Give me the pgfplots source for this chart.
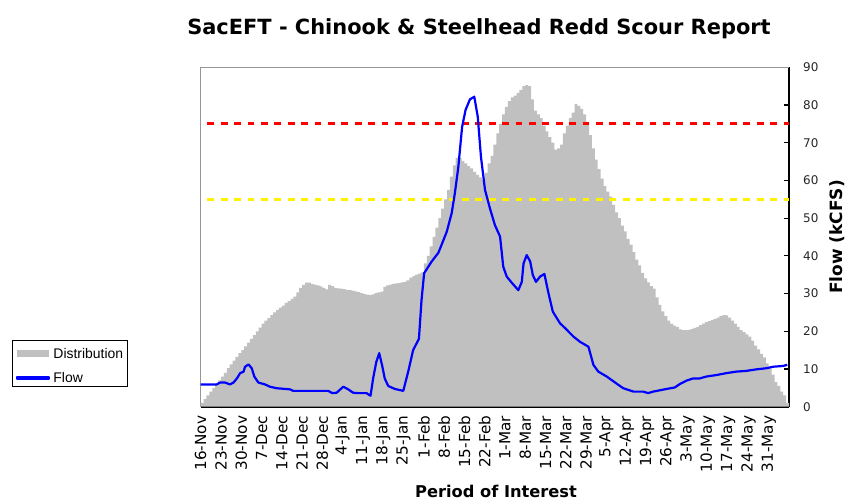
\documentclass[border=0pt]{standalone}
\usepackage{fontspec}
\setmainfont{DejaVu Sans}
\newfontfamily\legendfont{Liberation Sans}
\usepackage{pgfplots}
\pgfplotsset{compat=1.18}
\definecolor{distgray}{RGB}{192,192,192}
\definecolor{framegray}{RGB}{150,150,150}
\definecolor{flowblue}{RGB}{0,0,255}

\begin{document}
\begin{tikzpicture}
\useasboundingbox (0,0) rectangle (847bp,502bp);
\node[font=\fontsize{21}{24}\selectfont\bfseries, anchor=base] at (479bp,467.2bp)
  {SacEFT - Chinook \& Steelhead Redd Scour Report};
\begin{axis}[at={(200.7bp,95.3bp)}, anchor=origin,
 scale only axis, width=588.3bp, height=339.4bp,
 xmin=0, xmax=203, ymin=0, ymax=90,
 axis x line*=bottom, axis y line*=right,
 axis line style={-, black, line width=1.6bp},
 tick align=inside, major tick length=5bp,
 tick style={black, line width=1.2bp},
 xtick={0,7,...,203},
 xticklabels={16-Nov,23-Nov,30-Nov,7-Dec,14-Dec,21-Dec,28-Dec,4-Jan,11-Jan,18-Jan,25-Jan,1-Feb,8-Feb,15-Feb,22-Feb,1-Mar,8-Mar,15-Mar,22-Mar,29-Mar,5-Apr,12-Apr,19-Apr,26-Apr,3-May,10-May,17-May,24-May,31-May,{}},
 xticklabel style={rotate=90, anchor=east, inner sep=0pt, font=\fontsize{15.3}{17}\selectfont},
 xticklabel shift=9bp,
 ytick={0,10,...,90},
 yticklabel pos=right,
 yticklabel style={anchor=west, inner sep=0pt, font=\fontsize{12}{14}\selectfont, text=black!85},
 yticklabel shift=14bp,
 /pgf/number format/assume math mode=true,
 xlabel={Period of Interest},
 ylabel={Flow (kCFS)},
 every axis x label/.style={at={(axis description cs:0.502,-0.269)}, anchor=base, font=\fontsize{16.3}{18}\selectfont\bfseries},
 every axis y label/.style={at={(axis description cs:1.0811,0.5)}, anchor=center, rotate=90, font=\fontsize{17}{19}\selectfont\bfseries},
 clip=false,
 legend cell align=left,
 legend style={at={(axis description cs:-0.3208,0.1965)}, anchor=north west,
   draw=black, line width=0.6bp, inner xsep=4bp, inner ysep=2bp,
   font=\legendfont\fontsize{14}{16}\selectfont,
   nodes={inner sep=0pt, text height=16bp, text depth=2bp},
   row sep=6bp, column sep=3bp},
]
\draw[framegray, line width=0.8bp] (rel axis cs:0,0) -- (rel axis cs:0,1) -- (rel axis cs:1,1);
\addplot[draw=none, fill=distgray, const plot mark left,
  legend image code/.code={\fill[distgray] (0bp,-5.3bp) rectangle (32bp,1.3bp);}]
 coordinates {
 (0,1.0) (1,2.0) (2,3.0) (3,4.0) (4,5.0) (5,6.0) (6,7.0) (7,8.0) (8,9.0) (9,10.2)
 (10,11.2) (11,12.2) (12,13.2) (13,14.2) (14,15.0) (15,16.0) (16,17.0) (17,18.0) (18,19.0) (19,20.0)
 (20,21.0) (21,22.0) (22,22.8) (23,23.5) (24,24.3) (25,25.0) (26,25.7) (27,26.3) (28,26.8) (29,27.5)
 (30,28.0) (31,28.6) (32,29.2) (33,30.3) (34,31.5) (35,32.3) (36,32.9) (37,32.9) (38,32.6) (39,32.4)
 (40,32.2) (41,31.9) (42,31.5) (43,31.1) (44,32.3) (45,32.0) (46,31.5) (47,31.4) (48,31.3) (49,31.2)
 (50,31.0) (51,30.9) (52,30.8) (53,30.6) (54,30.4) (55,30.1) (56,29.9) (57,29.7) (58,29.6) (59,29.8)
 (60,30.1) (61,30.3) (62,30.5) (63,31.8) (64,32.2) (65,32.4) (66,32.6) (67,32.7) (68,32.8) (69,33.0)
 (70,33.1) (71,33.5) (72,34.2) (73,34.6) (74,35.0) (75,35.3) (76,35.6) (77,38.0) (78,40.0) (79,42.5)
 (80,45.0) (81,47.5) (82,50.0) (83,52.5) (84,55.0) (85,57.5) (86,61.0) (87,64.0) (88,66.0) (89,66.0)
 (90,65.2) (91,64.5) (92,63.8) (93,63.2) (94,62.3) (95,61.5) (96,60.8) (97,60.1) (98,62.0) (99,64.5)
 (100,66.5) (101,69.5) (102,72.5) (103,75.0) (104,77.5) (105,79.5) (106,81.0) (107,82.0) (108,82.5) (109,83.2)
 (110,84.0) (111,85.0) (112,85.3) (113,85.0) (114,81.5) (115,78.5) (116,77.5) (117,76.5) (118,74.5) (119,73.0)
 (120,71.5) (121,70.0) (122,68.2) (123,68.5) (124,69.5) (125,72.5) (126,74.5) (127,76.5) (128,78.0) (129,80.3)
 (130,79.8) (131,79.0) (132,77.5) (133,75.5) (134,72.0) (135,68.5) (136,65.5) (137,63.0) (138,60.5) (139,58.5)
 (140,57.0) (141,55.7) (142,53.5) (143,51.5) (144,50.0) (145,48.0) (146,46.5) (147,44.5) (148,43.0) (149,41.0)
 (150,39.0) (151,37.5) (152,35.5) (153,34.0) (154,33.0) (155,32.0) (156,31.3) (157,29.0) (158,27.0) (159,25.3)
 (160,24.0) (161,22.8) (162,22.0) (163,21.5) (164,21.2) (165,20.5) (166,20.3) (167,20.3) (168,20.4) (169,20.6)
 (170,20.9) (171,21.2) (172,21.6) (173,22.0) (174,22.4) (175,22.7) (176,23.0) (177,23.3) (178,23.6) (179,24.0)
 (180,24.3) (181,24.2) (182,23.6) (183,22.8) (184,22.0) (185,21.2) (186,20.3) (187,19.8) (188,19.2) (189,18.6)
 (190,17.5) (191,16.2) (192,15.2) (193,14.0) (194,13.1) (195,11.5) (196,10.5) (197,8.5) (198,6.5) (199,5.5)
 (200,4.0) (201,3.0) (202,1.0) (203,1.0)
 } \closedcycle;
\addlegendentry{Distribution}
\addplot[red, line width=3bp, dash pattern=on 6.7bp off 6.7bp, dash phase=6.7bp, forget plot]
 coordinates {(0,75) (203,75)};
\addplot[yellow, line width=3bp, dash pattern=on 6.7bp off 6.7bp, dash phase=6.7bp, forget plot]
 coordinates {(0,55) (203,55)};
\addplot[flowblue, line width=2.2bp, line join=round,
  legend image code/.code={\fill[flowblue] (0bp,-3.3bp) rectangle (32bp,-1.3bp);}]
 coordinates {
 (0,5.9) (5.5,5.9) (6.7,6.4) (8.4,6.4) (10.1,5.9) (11.3,6.4) (12.5,7.5) (13.6,8.9) (14.8,9.3) (15.3,10.6)
 (16.5,11.2) (17.6,10.2) (18.5,8.0) (19.9,6.4) (22.2,5.9) (23.9,5.3) (26.2,4.9) (30.8,4.6) (31.9,4.2) (44,4.2)
 (45.4,3.6) (46.9,3.7) (49.2,5.3) (50.9,4.6) (52.6,3.7) (54.4,3.6) (57.2,3.6) (58.6,2.9) (59.5,7.5) (60.6,11.9)
 (61.6,14.2) (62.7,10.6) (63.5,7.5) (64.7,5.5) (67,4.7) (69.9,4.2) (71.6,9.3) (73.3,15.0) (75.3,18.0) (76.2,28.3)
 (77.1,35.4) (79.7,38.5) (82,40.8) (83.1,42.9) (84.9,46.4) (86.6,51.3) (87.7,56.6) (88.9,63.6) (90.2,74.2) (91.4,78.7)
 (92.9,81.5) (94.4,82.2) (95.6,76.9) (96.7,66.3) (98.1,57.5) (99.8,52.6) (101.5,48.2) (103.3,45.1) (104.4,37.1) (105.6,34.5)
 (107.3,32.9) (109.6,30.9) (110.8,33.1) (111.4,38.0) (112.5,40.2) (113.7,38.5) (114.6,34.9) (115.7,33.1) (117.1,34.5) (118.6,35.2)
 (120,30.1) (121.5,25.2) (124,22.1) (125.8,20.8) (128.6,18.6) (130.9,17.2) (133.8,15.9) (135.5,11.1) (137.2,9.3) (140.1,8.0)
 (144.1,5.8) (145.8,4.9) (149.3,4.0) (152.7,4.0) (154.4,3.6) (156.1,4.0) (160.7,4.7) (163.6,5.1) (165.3,6.0) (167.6,6.9)
 (169.9,7.5) (172.2,7.5) (174.5,8.0) (178,8.4) (181.4,8.9) (184.8,9.3) (188.3,9.5) (191.7,9.9) (195.2,10.2) (197.5,10.6)
 (200.9,10.8) (202.4,11.1)
 };
\addlegendentry{Flow}
\end{axis}
\end{tikzpicture}
\end{document}
